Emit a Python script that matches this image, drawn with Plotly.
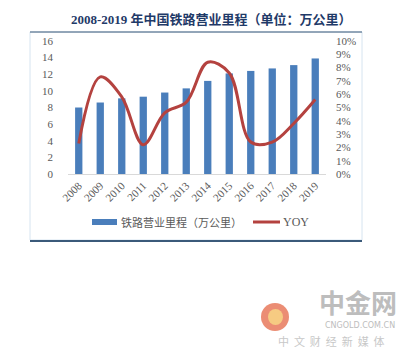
import plotly.graph_objects as go

years = [2008, 2009, 2010, 2011, 2012, 2013, 2014, 2015, 2016, 2017, 2018, 2019]
mileage = [8.0, 8.6, 9.1, 9.3, 9.8, 10.3, 11.2, 12.1, 12.4, 12.7, 13.1, 13.9]
yoy = [0.023, 0.073, 0.058, 0.022, 0.046, 0.054, 0.084, 0.076, 0.024, 0.024, 0.038, 0.056]
left_ticks = [0, 2, 4, 6, 8, 10, 12, 14, 16]
right_ticks = [i / 100 for i in range(0, 11)]

OFF = 8  # page body margin
W, H = 420 - OFF, 360 - OFF
# plot area in screen pixels: x 68..326, y 41..174
SL, SR, ST, SB = 68, 326, 41, 174
L, R, T, B = SL - OFF, W - (SR - OFF), ST - OFF, H - (SB - OFF)
PW, PH = SR - SL, SB - ST

def px(x):
    return (x - SL) / PW

def py(y):
    return (SB - y) / PH

SERIF = "Liberation Serif, Times New Roman, Noto Sans CJK SC, serif"
GREY = "#595959"
BLUE = "#4A7EBB"
RED = "#B4423F"

fig = go.Figure()
fig.add_trace(go.Bar(x=years, y=mileage, width=0.34, marker_color=BLUE,
                     marker_line_width=0, name="铁路营业里程（万公里）"))
fig.add_trace(go.Scatter(x=years, y=yoy, yaxis="y2", mode="lines",
                         line=dict(color=RED, width=3, shape="spline", smoothing=1.0),
                         name="YOY"))

shapes = [
    dict(type="rect", xref="paper", yref="paper", x0=px(30), x1=px(362), y0=py(240), y1=py(32),
         line=dict(color="#D6E4F0", width=1), fillcolor="rgba(0,0,0,0)", layer="below"),
    dict(type="line", xref="paper", yref="paper", x0=px(30), x1=px(362), y0=py(32), y1=py(32),
         line=dict(color="#3B5A7A", width=1)),
    dict(type="line", xref="paper", yref="paper", x0=px(30), x1=px(362), y0=py(241), y1=py(241),
         line=dict(color="#3B5A7A", width=2)),
    dict(type="rect", xref="paper", yref="paper", x0=px(92), x1=px(117), y0=py(225), y1=py(219),
         line=dict(width=0), fillcolor=BLUE),
    dict(type="line", xref="paper", yref="paper", x0=px(253), x1=px(280), y0=py(222), y1=py(222),
         line=dict(color=RED, width=3)),
    dict(type="circle", xref="paper", yref="paper", x0=px(261), x1=px(289), y0=py(331), y1=py(303),
         line=dict(width=0), fillcolor="#E8795C", opacity=0.85),
    dict(type="circle", xref="paper", yref="paper", x0=px(268), x1=px(283), y0=py(325), y1=py(309),
         line=dict(width=0), fillcolor="#F7D184", opacity=0.9),
]

annotations = [
    dict(text="<b>2008-2019 年中国铁路营业里程（单位：万公里）</b>", xref="paper", yref="paper",
         x=px(211), y=py(20), showarrow=False, xanchor="center", yanchor="middle",
         font=dict(family=SERIF, size=13, color="#1F3A68")),
    dict(text="铁路营业里程（万公里）", xref="paper", yref="paper", x=px(119), y=py(222),
         showarrow=False, xanchor="left", yanchor="middle",
         font=dict(family="Noto Sans CJK SC, sans-serif", size=11, color=GREY)),
    dict(text="YOY", xref="paper", yref="paper", x=px(281), y=py(222),
         showarrow=False, xanchor="left", yanchor="middle",
         font=dict(family=SERIF, size=12, color=GREY)),
    dict(text="<b>中金网</b>", xref="paper", yref="paper", x=px(358), y=py(301),
         showarrow=False, xanchor="center", yanchor="middle",
         font=dict(family="Noto Sans CJK SC, sans-serif", size=26, color="#BDBDBD")),
    dict(text="CNGOLD.COM.CN", xref="paper", yref="paper", x=px(360), y=py(325),
         showarrow=False, xanchor="center", yanchor="middle",
         font=dict(family="DejaVu Sans, sans-serif", size=8, color="#BDBDBD")),
    dict(text="中  文  财  经  新  媒  体", xref="paper", yref="paper", x=px(331), y=py(341),
         showarrow=False, xanchor="center", yanchor="middle",
         font=dict(family="Noto Sans CJK SC, sans-serif", size=11, color="#C8C8C8")),
]

fig.update_layout(
    width=W, height=H,
    margin=dict(l=L, r=R, t=T, b=B, pad=0),
    paper_bgcolor="white", plot_bgcolor="white",
    showlegend=False,
    shapes=shapes, annotations=annotations,
    xaxis=dict(range=[2007.5, 2019.5], tickmode="array", tickvals=years,
               ticktext=[str(y) for y in years], tickangle=-45,
               showgrid=False, zeroline=False, showline=True, linecolor="#D9D9D9",
               ticks="", tickfont=dict(family=SERIF, size=11, color=GREY)),
    yaxis=dict(range=[0, 16], tickmode="array", tickvals=left_ticks,
               showgrid=False, zeroline=False, showline=False, ticks="",
               ticklabelstandoff=14,
               tickfont=dict(family=SERIF, size=11, color=GREY)),
    yaxis2=dict(range=[0, 0.10], overlaying="y", side="right", tickmode="array",
                tickvals=right_ticks, tickformat=".0%", showgrid=False, zeroline=False,
                showline=False, ticks="", ticklabelstandoff=9,
                tickfont=dict(family=SERIF, size=11, color=GREY)),
)

fig.write_html("out.html")
